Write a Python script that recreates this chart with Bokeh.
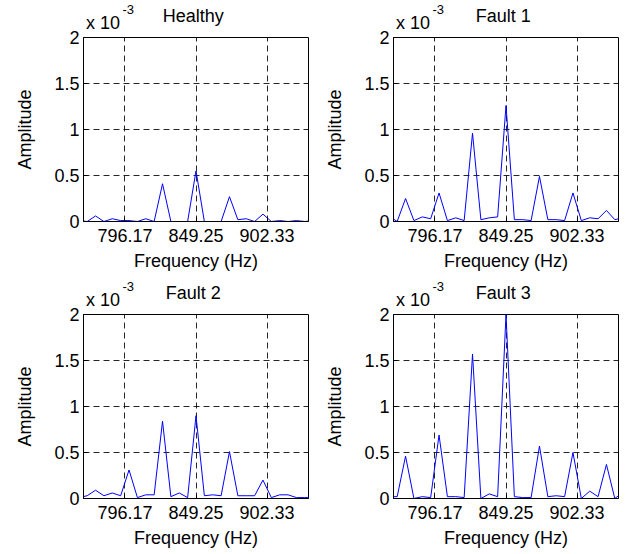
from bokeh.plotting import figure
from bokeh.layouts import gridplot
from bokeh.models import FixedTicker, CustomJSTickFormatter, Range1d, LinearAxis
from bokeh.embed import file_html
from bokeh.resources import INLINE

# Frequency bins (Hz)
freq_hz = [761.75, 768.0, 774.25, 780.5, 786.75, 793.0, 799.25, 805.5, 811.75, 818.0,
           824.25, 830.5, 836.75, 843.0, 849.25, 855.5, 861.75, 868.0, 874.25, 880.5,
           886.75, 893.0, 899.25, 905.5, 911.75, 918.0, 924.25, 930.5, 936.75]

# Amplitudes in units of 1e-3
healthy = [0.01, 0.00, 0.06, 0.00, 0.03, 0.01, 0.01, 0.00, 0.03, 0.00,
           0.41, 0.00, 0.00, 0.00, 0.55, 0.00, 0.00, 0.00, 0.27, 0.02,
           0.03, 0.00, 0.08, 0.00, 0.01, 0.00, 0.01, 0.00, 0.01]
fault1 = [0.06, 0.00, 0.25, 0.01, 0.05, 0.03, 0.31, 0.01, 0.04, 0.01,
          0.96, 0.02, 0.04, 0.05, 1.26, 0.02, 0.02, 0.01, 0.49, 0.02,
          0.02, 0.01, 0.31, 0.01, 0.04, 0.03, 0.12, 0.02, 0.04]
fault2 = [0.01, 0.03, 0.09, 0.03, 0.06, 0.03, 0.31, 0.01, 0.04, 0.04,
          0.84, 0.02, 0.06, 0.01, 0.90, 0.03, 0.04, 0.03, 0.51, 0.03,
          0.03, 0.03, 0.20, 0.01, 0.04, 0.04, 0.01, 0.01, 0.01]
fault3 = [0.02, 0.02, 0.46, 0.00, 0.02, 0.01, 0.69, 0.02, 0.02, 0.01,
          1.57, 0.00, 0.05, 0.02, 2.00, 0.02, 0.01, 0.01, 0.57, 0.02,
          0.03, 0.02, 0.50, 0.00, 0.08, 0.02, 0.37, 0.00, 0.07]

titles = ["Healthy", "Fault 1", "Fault 2", "Fault 3"]
scale_base = "x 10"
scale_exp = "-3"
x_ticks = [796.17, 849.25, 902.33]
y_ticks = [0, 0.5, 1, 1.5, 2]
x_min, x_max = 765.25, 933.25
y_min, y_max = 0, 2

FONT = "Liberation Sans"
FS = "18px"


def text_axis(pos, text, size, standoff):
    """An unlined axis above the frame whose only tick label is the given text."""
    return LinearAxis(ticker=FixedTicker(ticks=[pos]),
                      major_label_overrides={pos: text},
                      axis_line_color=None, major_tick_line_color=None,
                      minor_tick_line_color=None,
                      major_tick_in=0, major_tick_out=0,
                      minor_tick_in=0, minor_tick_out=0,
                      major_label_text_font=FONT, major_label_text_font_size=size,
                      major_label_text_color="black", major_label_standoff=standoff)


def make(title, amps, top_row, left_col):
    p = figure(frame_width=225, frame_height=184, output_backend="svg",
               toolbar_location=None,
               x_range=Range1d(x_min, x_max), y_range=Range1d(y_min, y_max),
               min_border_left=83 if left_col else 75,
               min_border_right=10,
               min_border_top=37 if top_row else 35,
               min_border_bottom=57)
    p.background_fill_color = "white"
    p.border_fill_color = "white"
    p.outline_line_color = "black"
    p.outline_line_width = 1
    p.outline_line_alpha = 1

    p.xaxis.ticker = FixedTicker(ticks=x_ticks)
    p.yaxis.ticker = FixedTicker(ticks=y_ticks)
    p.xgrid.ticker = FixedTicker(ticks=x_ticks)
    p.ygrid.ticker = FixedTicker(ticks=y_ticks)
    p.xaxis.formatter = CustomJSTickFormatter(code="return tick.toString();")
    p.yaxis.formatter = CustomJSTickFormatter(code="return tick.toString();")

    for ax in (p.xaxis, p.yaxis):
        ax.axis_line_color = "black"
        ax.major_tick_line_color = "black"
        ax.major_tick_in = 4
        ax.major_tick_out = 0
        ax.minor_tick_line_color = None
        ax.major_label_text_font = FONT
        ax.major_label_text_font_size = FS
        ax.major_label_text_color = "black"
        ax.axis_label_text_font = FONT
        ax.axis_label_text_font_size = FS
        ax.axis_label_text_font_style = "normal"
        ax.axis_label_text_color = "black"
    p.xaxis.axis_label = "Frequency (Hz)"
    p.yaxis.axis_label = "Amplitude"
    p.xaxis.major_label_standoff = 7
    p.xaxis.axis_label_standoff = 6
    p.yaxis.major_label_standoff = 4
    p.yaxis.axis_label_standoff = 16

    for g in (p.xgrid, p.ygrid):
        g.grid_line_color = "black"
        g.grid_line_dash = "6 4"
        g.grid_line_alpha = 0.85
        g.grid_line_width = 1

    p.line(freq_hz, amps, line_color="#0000ff", line_width=1)

    # exponent note and title above the frame
    p.add_layout(text_axis(x_min + 14.6, scale_base, FS, 5), "above")
    p.add_layout(text_axis((x_min + x_max) / 2 - 2.0, title, FS, -16), "above")
    p.add_layout(text_axis(x_min + 33.4, scale_exp, "13px", -11), "above")
    return p


p1 = make(titles[0], healthy, True, True)
p2 = make(titles[1], fault1, True, False)
p3 = make(titles[2], fault2, False, True)
p4 = make(titles[3], fault3, False, False)

grid = gridplot([[p1, p2], [p3, p4]], toolbar_location=None)

open("out.html", "w").write(file_html(grid, INLINE))
